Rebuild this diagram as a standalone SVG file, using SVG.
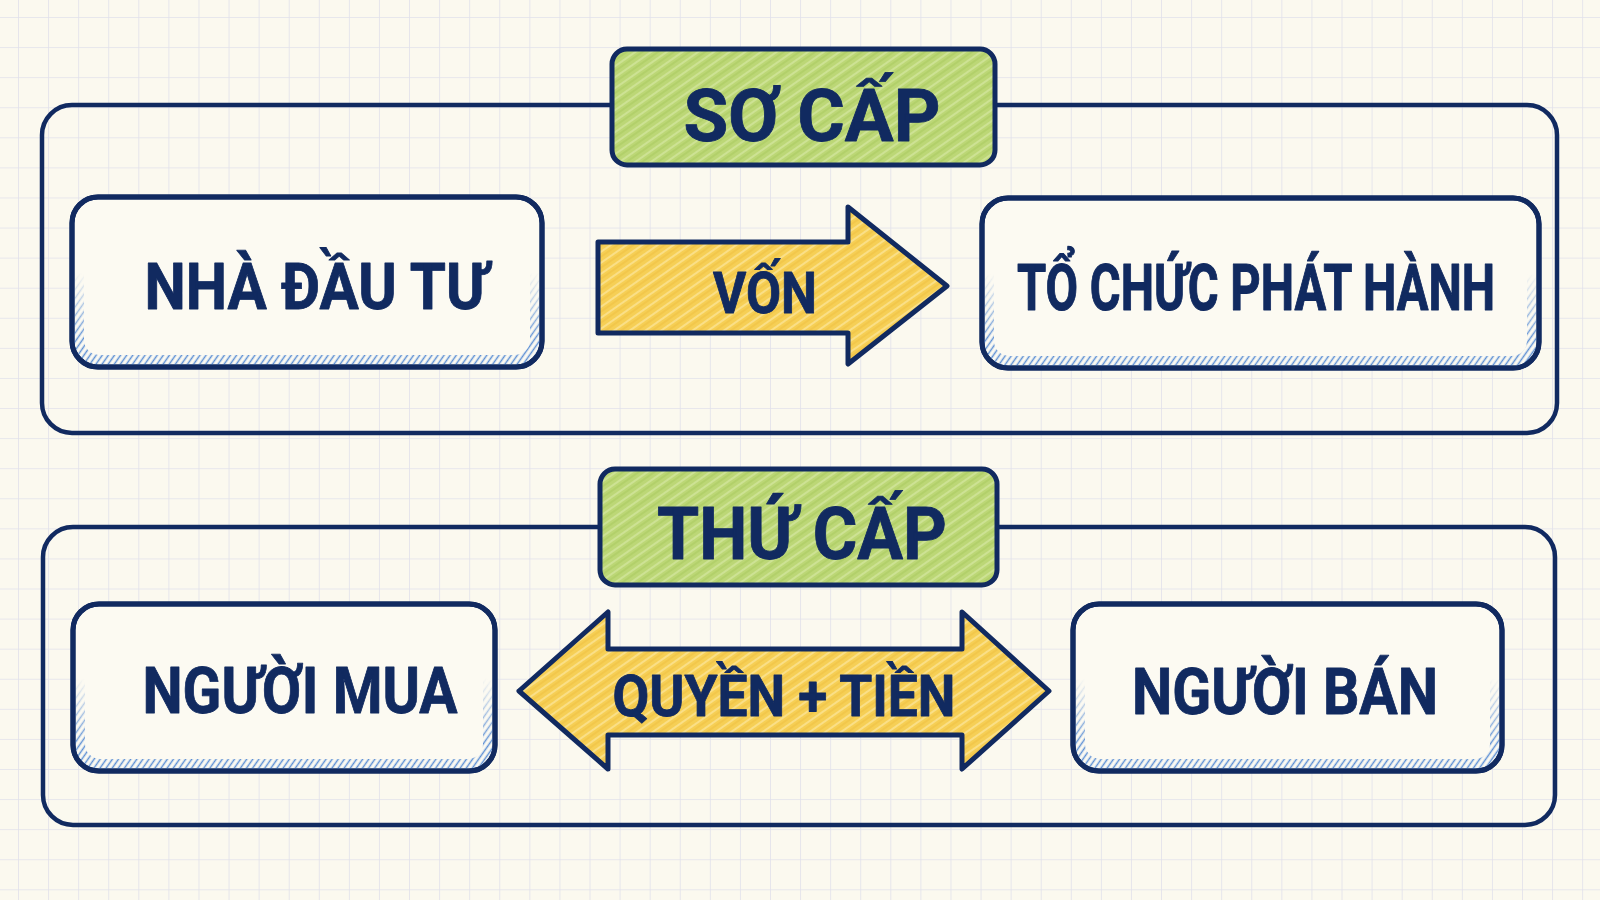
<svg xmlns="http://www.w3.org/2000/svg" width="1600" height="900" viewBox="0 0 1600 900">
<defs>
<pattern id="grid" patternUnits="userSpaceOnUse" x="18" y="17" width="30.08" height="30.08">
<path d="M0,0 H30.08 M0,0 V30.08" stroke="#e1e1eb" stroke-width="1.6" fill="none"/>
</pattern>
<pattern id="hatchGreen" patternUnits="userSpaceOnUse" width="9" height="9" patternTransform="rotate(-35)">
<rect width="9" height="9" fill="#bcd776"/>
<path d="M0,2 H9" stroke="#d2e59c" stroke-width="1.6"/>
<path d="M0,6 H9" stroke="#a9c95e" stroke-width="1"/>
</pattern>
<pattern id="hatchYellow" patternUnits="userSpaceOnUse" width="9" height="9" patternTransform="rotate(-35)">
<rect width="9" height="9" fill="#f6cf55"/>
<path d="M0,2 H9" stroke="#fbe394" stroke-width="1.6"/>
<path d="M0,6 H9" stroke="#efc040" stroke-width="1"/>
</pattern>
<pattern id="hatchBlue" patternUnits="userSpaceOnUse" width="5" height="5" patternTransform="rotate(-55)">
<path d="M0,2.5 H5" stroke="#5d8fd4" stroke-width="1.5"/>
</pattern>
<linearGradient id="fade" x1="0" y1="0" x2="0" y2="1">
<stop offset="0.45" stop-color="#000"/>
<stop offset="0.8" stop-color="#fff"/>
</linearGradient>
<mask id="fadeMask" maskContentUnits="objectBoundingBox">
<rect x="-0.1" y="-0.1" width="1.2" height="1.2" fill="url(#fade)"/>
</mask>
</defs>
<style>
.frame{fill:none;stroke:#112a60;stroke-width:4.5}
.node{fill:#fcfaf2;stroke:#112a60;stroke-width:5}
.edge{fill:none;stroke:#112a60;stroke-width:5}
.shade{fill:none;stroke:url(#hatchBlue);stroke-width:12}
.title{fill:url(#hatchGreen);stroke:#112a60;stroke-width:5}
.arrow{fill:url(#hatchYellow);stroke:#112a60;stroke-width:5;stroke-linejoin:round}
text{font-family:Roboto,"Noto Sans","DejaVu Sans",sans-serif;font-weight:700;fill:#112a60;stroke:#112a60;stroke-width:0.8;stroke-linejoin:round;text-anchor:middle}
.t-title{font-size:72px}
.t-node{font-size:64px}
.t-arrow{font-size:57px}
</style>
<rect width="1600" height="900" fill="#fbf9ef"/>
<rect width="1600" height="900" fill="url(#grid)"/>

<g id="frame-primary">
<rect class="frame" x="42" y="105" width="1515" height="328" rx="30"/>
</g>
<g id="frame-secondary">
<rect class="frame" x="43" y="527" width="1512" height="298" rx="30"/>
</g>

<g id="title-so-cap">
<rect class="title" x="612" y="49" width="383" height="116" rx="15"/>
<text class="t-title" x="812" y="141" textLength="257" lengthAdjust="spacingAndGlyphs">SƠ CẤP</text>
</g>
<g id="title-thu-cap">
<rect class="title" x="600" y="469" width="397" height="116" rx="15"/>
<text class="t-title" x="802" y="559" textLength="290" lengthAdjust="spacingAndGlyphs">THỨ CẤP</text>
</g>

<g id="node-nha-dau-tu">
<rect class="node" x="72" y="197" width="470" height="170" rx="26"/>
<rect class="shade" x="78" y="203" width="458" height="158" rx="21" mask="url(#fadeMask)"/>
<rect class="edge" x="72" y="197" width="470" height="170" rx="26"/>
<text class="t-node" x="316" y="309" textLength="343" lengthAdjust="spacingAndGlyphs">NHÀ ĐẦU TƯ</text>
</g>

<g id="node-to-chuc-phat-hanh">
<rect class="node" x="982" y="198" width="557" height="170" rx="26"/>
<rect class="shade" x="988" y="204" width="545" height="158" rx="21" mask="url(#fadeMask)"/>
<rect class="edge" x="982" y="198" width="557" height="170" rx="26"/>
<text class="t-node" transform="translate(1256,310) scale(0.7,1)" x="0" y="0" style="stroke-width:1" textLength="683" lengthAdjust="spacingAndGlyphs">TỔ CHỨC PHÁT HÀNH</text>
</g>

<g id="node-nguoi-mua">
<rect class="node" x="73" y="604" width="422" height="167" rx="26"/>
<rect class="shade" x="79" y="610" width="410" height="155" rx="21" mask="url(#fadeMask)"/>
<rect class="edge" x="73" y="604" width="422" height="167" rx="26"/>
<text class="t-node" x="300" y="713" textLength="315" lengthAdjust="spacingAndGlyphs">NGƯỜI MUA</text>
</g>

<g id="node-nguoi-ban">
<rect class="node" x="1073" y="604" width="429" height="167" rx="26"/>
<rect class="shade" x="1079" y="610" width="417" height="155" rx="21" mask="url(#fadeMask)"/>
<rect class="edge" x="1073" y="604" width="429" height="167" rx="26"/>
<text class="t-node" x="1285" y="714" textLength="306" lengthAdjust="spacingAndGlyphs">NGƯỜI BÁN</text>
</g>

<g id="connectors">
<g id="arrow-von">
<path class="arrow" d="M598,242 L848,242 L848,207 L947,286 L848,364 L848,333 L598,333 Z"/>
<text class="t-arrow" x="765" y="313" textLength="104" lengthAdjust="spacingAndGlyphs">VỐN</text>
</g>
<g id="arrow-quyen-tien">
<path class="arrow" d="M519,691 L608,612 L608,649 L962,649 L962,612 L1049,691 L962,769 L962,735 L608,735 L608,769 Z"/>
<text class="t-arrow" x="784" y="716" textLength="343" lengthAdjust="spacingAndGlyphs">QUYỀN + TIỀN</text>
</g>
</g>
</svg>
